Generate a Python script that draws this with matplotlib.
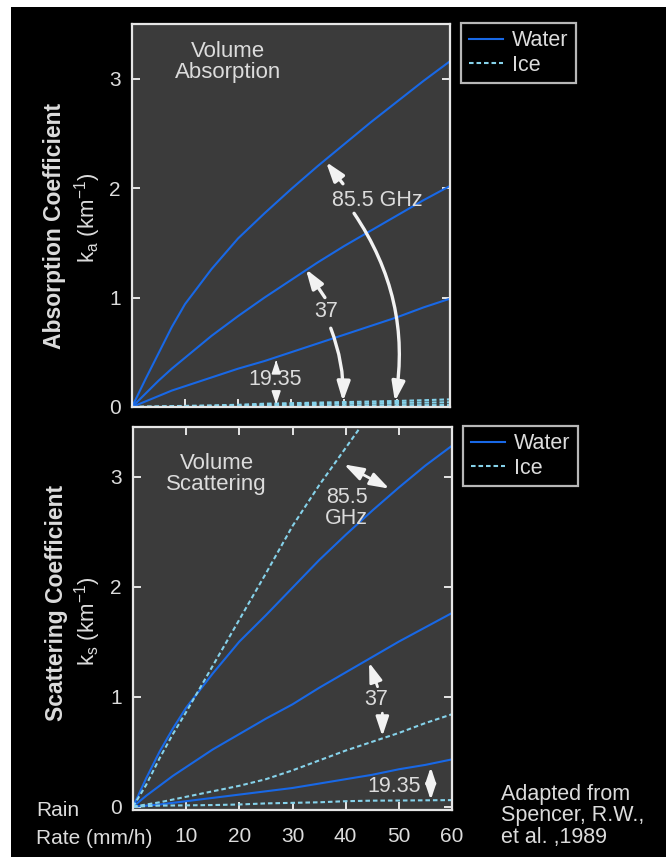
import matplotlib
matplotlib.use("Agg")
import matplotlib.pyplot as plt
import numpy as np
from matplotlib.patches import Rectangle
from matplotlib.lines import Line2D

plt.rcParams['font.family'] = ['Liberation Sans', 'DejaVu Sans']

# rain rate (mm/h)
rain = [0, 2.5, 5, 7.5, 10, 15, 20, 25, 30, 35, 40, 45, 50, 55, 60]

# volume absorption, k_a (1/km)
abs_water_855 = [0, 0.25, 0.49, 0.73, 0.94, 1.26, 1.54, 1.77, 1.99, 2.2, 2.4, 2.6, 2.79, 2.98, 3.16]
abs_water_37 = [0, 0.12, 0.24, 0.35, 0.45, 0.65, 0.83, 1.0, 1.16, 1.32, 1.47, 1.61, 1.75, 1.89, 2.02]
abs_water_1935 = [0, 0.05, 0.1, 0.15, 0.19, 0.27, 0.35, 0.42, 0.5, 0.58, 0.66, 0.74, 0.82, 0.91, 0.99]
abs_ice_855 = [0, 0.003, 0.005, 0.008, 0.01, 0.015, 0.02, 0.03, 0.035, 0.04, 0.045, 0.05, 0.055, 0.062, 0.07]
abs_ice_37 = [0, 0.002, 0.003, 0.005, 0.006, 0.009, 0.012, 0.02, 0.024, 0.028, 0.031, 0.034, 0.037, 0.04, 0.043]
abs_ice_1935 = [0, 0.001, 0.001, 0.002, 0.002, 0.003, 0.004, 0.01, 0.012, 0.013, 0.014, 0.015, 0.016, 0.017, 0.018]

# volume scattering, k_s (1/km)
sca_water_855 = [0, 0.26, 0.5, 0.71, 0.9, 1.21, 1.5, 1.74, 1.99, 2.24, 2.47, 2.69, 2.9, 3.1, 3.28]
sca_water_37 = [0, 0.1, 0.19, 0.28, 0.36, 0.52, 0.66, 0.8, 0.93, 1.08, 1.22, 1.36, 1.5, 1.63, 1.76]
sca_water_1935 = [0, 0.01, 0.02, 0.035, 0.05, 0.08, 0.11, 0.14, 0.17, 0.21, 0.25, 0.29, 0.34, 0.38, 0.43]
sca_ice_855 = [0, 0.2, 0.44, 0.66, 0.86, 1.28, 1.7, 2.12, 2.55, 2.92, 3.26, 3.6, np.nan, np.nan, np.nan]
sca_ice_37 = [0, 0.02, 0.04, 0.065, 0.09, 0.14, 0.19, 0.25, 0.33, 0.42, 0.51, 0.59, 0.67, 0.76, 0.84]
sca_ice_1935 = [0, 0.005, 0.01, 0.011, 0.012, 0.015, 0.02, 0.03, 0.035, 0.04, 0.05, 0.055, 0.056, 0.058, 0.06]

xticks = [10, 20, 30, 40, 50, 60]
yticks = [0, 1, 2, 3]

WATER = '#1868e6'
ICE = '#86d2ea'
TXT = '#dcdcdc'
EDGE = '#e6e6e6'
PANEL = '#3b3b3b'
ARR = '#f2f2f2'

W, H = 666, 857
fig = plt.figure(figsize=(W / 100, H / 100), dpi=100, facecolor='white')
fig.add_artist(Rectangle((11 / W, 0), 1, (H - 7) / H, transform=fig.transFigure,
                         facecolor='black', edgecolor='none', zorder=-10))

ax1 = fig.add_axes([132 / W, (H - 407) / H, 318 / W, 383 / H])
ax2 = fig.add_axes([133 / W, (H - 810) / H, 319 / W, 383 / H])

for ax in (ax1, ax2):
    ax.set_facecolor(PANEL)
    for s in ax.spines.values():
        s.set_color(EDGE)
        s.set_linewidth(1.6)
    ax.set_xlim(0, 60)
    ax.set_xticks(xticks)
    ax.set_yticks(yticks)
    ax.tick_params(direction='in', length=6, width=1.4, color=EDGE,
                   labelcolor=TXT, labelsize=15, right=True, pad=8)
    ax.tick_params(axis='x', pad=12)

ax1.set_ylim(0, 3.5)
ax2.set_ylim(-0.03, 3.45)
ax1.tick_params(axis='x', labelbottom=False, top=False)
ax2.tick_params(axis='x', top=True)

dash = (0, (2.2, 1.4))
lw = 1.5
for y in (abs_ice_855, abs_ice_37, abs_ice_1935):
    ax1.plot(rain, y, color=ICE, lw=lw, linestyle=dash)
for y in (abs_water_855, abs_water_37, abs_water_1935):
    ax1.plot(rain, y, color=WATER, lw=lw)
for y in (sca_water_855, sca_water_37, sca_water_1935):
    ax2.plot(rain, y, color=WATER, lw=lw)
for y in (sca_ice_855, sca_ice_37, sca_ice_1935):
    ax2.plot(rain, y, color=ICE, lw=lw, linestyle=dash)

# panel titles
ax1.text(18.1, 3.15, 'Volume\nAbsorption', color=TXT, fontsize=16, ha='center',
         va='center', linespacing=1.0)
ax2.text(15.7, 3.02, 'Volume\nScattering', color=TXT, fontsize=16, ha='center',
         va='center', linespacing=1.0)


def arrow(ax, tail, tip, rad=0.0, style='-|>', size=13, lw=2.4):
    ax.annotate('', xy=tip, xytext=tail,
                arrowprops=dict(arrowstyle=style + ',head_length=0.9,head_width=0.3',
                                color=ARR, lw=lw, mutation_scale=size,
                                shrinkA=0, shrinkB=0,
                                connectionstyle='arc3,rad=%g' % rad))


# absorption annotations
ax1.text(46.2, 1.89, '85.5 GHz', color=TXT, fontsize=15.5, ha='center', va='center')
arrow(ax1, (39.8, 2.04), (36.6, 2.24))
arrow(ax1, (41.9, 1.77), (49.6, 0.05), rad=-0.2)
ax1.text(36.6, 0.87, '37', color=TXT, fontsize=15.5, ha='center', va='center')
arrow(ax1, (36.4, 1.0), (32.8, 1.26))
arrow(ax1, (37.5, 0.72), (39.8, 0.05), rad=-0.1)
ax1.text(27.0, 0.25, '19.35', color=TXT, fontsize=15.5, ha='center', va='center')
arrow(ax1, (27.2, 0.39), (27.2, 0.43), size=9, lw=1.2)
arrow(ax1, (27.2, 0.07), (27.2, 0.02), size=9, lw=1.2)

# scattering annotations
arrow(ax2, (39.7, 3.11), (48.2, 2.89), style='<|-|>', lw=2.0)
ax2.text(40.2, 2.71, '85.5\nGHz', color=TXT, fontsize=15.5, ha='center', va='center',
         linespacing=1.0)
ax2.text(45.7, 0.97, '37', color=TXT, fontsize=15.5, ha='center', va='center')
arrow(ax2, (46.0, 1.09), (44.4, 1.31), lw=2.0)
arrow(ax2, (46.9, 0.85), (46.9, 0.64), lw=2.0)
ax2.text(49.1, 0.18, '19.35', color=TXT, fontsize=15.5, ha='center', va='center')
arrow(ax2, (56.0, 0.06), (56.0, 0.36), style='<|-|>', size=10, lw=2.0)

# legends
handles = [Line2D([], [], color=WATER, lw=lw), Line2D([], [], color=ICE, lw=lw, linestyle=dash)]
for ax in (ax1, ax2):
    leg = ax.legend(handles, ['Water', 'Ice'], loc='upper left', bbox_to_anchor=(1.035, 1.003),
                    borderaxespad=0, fontsize=15.5, frameon=True, fancybox=False,
                    handlelength=1.6, handletextpad=0.4, labelspacing=0.15, borderpad=0.35)
    leg.get_frame().set_facecolor('black')
    leg.get_frame().set_edgecolor(EDGE)
    leg.get_frame().set_linewidth(1.6)
    for t in leg.get_texts():
        t.set_color(TXT)

# axis labels
fig.text(54 / W, 1 - 226 / H, 'Absorption Coefficient', color=TXT, fontsize=16.5,
         fontweight='bold', rotation=90, ha='center', va='center')
fig.text(88 / W, 1 - 218 / H, 'k$_\\mathregular{a}$ (km$^\\mathregular{-1}$)', color=TXT,
         fontsize=16, rotation=90, ha='center', va='center')
fig.text(56 / W, 1 - 603 / H, 'Scattering Coefficient', color=TXT, fontsize=16.5,
         fontweight='bold', rotation=90, ha='center', va='center')
fig.text(88 / W, 1 - 621 / H, 'k$_\\mathregular{s}$ (km$^\\mathregular{-1}$)', color=TXT,
         fontsize=16, rotation=90, ha='center', va='center')

fig.text(36 / W, 1 - 810 / H, 'Rain', color=TXT, fontsize=15, ha='left', va='center')
fig.text(36 / W, 1 - 838 / H, 'Rate (mm/h)', color=TXT, fontsize=15, ha='left', va='center')
fig.text(501 / W, 1 - 816 / H, 'Adapted from\nSpencer, R.W.,\net al. ,1989', color=TXT,
         fontsize=15.5, ha='left', va='center', linespacing=1.05)

fig.savefig('out.png', dpi=100, facecolor=fig.get_facecolor())
